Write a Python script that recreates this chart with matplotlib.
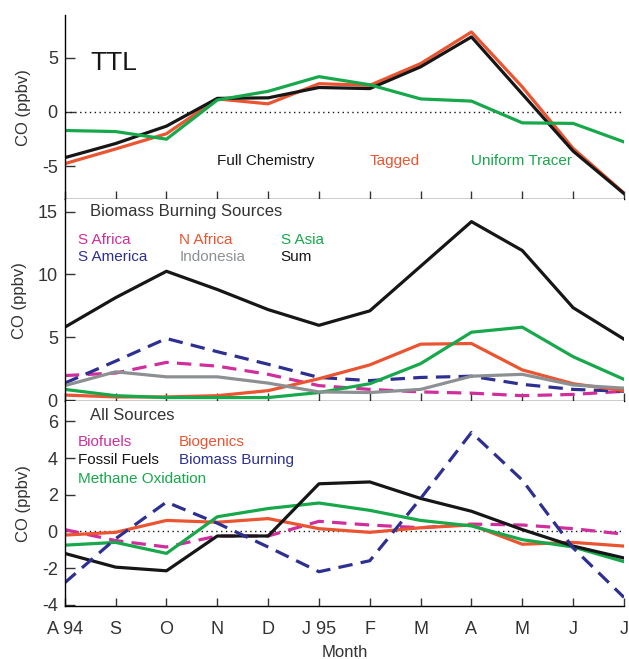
import numpy as np
import matplotlib
matplotlib.use('Agg')
import matplotlib.pyplot as plt

plt.rcParams['font.family'] = ['Liberation Sans', 'DejaVu Sans']
plt.rcParams['axes.unicode_minus'] = False

months = ['A 94', 'S', 'O', 'N', 'D', 'J 95', 'F', 'M', 'A', 'M', 'J', 'J']

# TTL panel
full_chem = [-4.2, -2.9, -1.3, 1.25, 1.3, 2.25, 2.15, 4.15, 6.9, 1.65, -3.6, -7.5]
tagged = [-4.75, -3.4, -2.0, 1.2, 0.75, 2.6, 2.45, 4.45, 7.35, 2.3, -3.35, -7.45]
uniform = [-1.7, -1.8, -2.5, 1.1, 1.9, 3.25, 2.5, 1.2, 1.0, -1.0, -1.05, -2.75]

# biomass burning sources
s_africa = [1.95, 2.15, 3.0, 2.7, 2.05, 1.15, 0.85, 0.65, 0.55, 0.35, 0.45, 0.7]
s_america = [1.35, 3.1, 4.9, 3.85, 2.85, 1.8, 1.55, 1.8, 1.9, 1.25, 0.85, 0.7]
n_africa = [0.4, 0.25, 0.25, 0.35, 0.75, 1.7, 2.8, 4.45, 4.5, 2.4, 1.3, 0.75]
indonesia = [1.15, 2.25, 1.85, 1.85, 1.35, 0.65, 0.6, 0.85, 1.9, 2.05, 1.2, 0.95]
s_asia = [0.85, 0.35, 0.2, 0.2, 0.2, 0.6, 1.3, 2.9, 5.4, 5.8, 3.45, 1.65]
bb_sum = [5.8, 8.15, 10.25, 8.8, 7.2, 5.95, 7.1, 10.65, 14.2, 11.9, 7.35, 4.85]

# all sources
biofuels = [0.1, -0.5, -0.85, -0.25, -0.25, 0.55, 0.35, 0.2, 0.4, 0.35, 0.15, -0.15]
biogenics = [-0.2, -0.05, 0.6, 0.5, 0.7, 0.15, -0.05, 0.2, 0.35, -0.7, -0.6, -0.8]
fossil = [-1.2, -1.95, -2.15, -0.25, -0.25, 2.6, 2.7, 1.8, 1.1, 0.1, -0.8, -1.45]
biomass = [-2.8, -0.4, 1.6, 0.45, -0.85, -2.2, -1.6, 1.8, 5.4, 2.8, -0.9, -3.6]
methane = [-0.75, -0.6, -1.2, 0.8, 1.25, 1.55, 1.15, 0.6, 0.3, -0.45, -0.85, -1.65]

x = np.arange(len(months))

BLACK = '#161616'
RED = '#ea5430'
GREEN = '#17a84b'
MAGENTA = '#cf2e9c'
BLUE = '#2d3091'
GRAY = '#8d9093'
TXT = '#333333'
lw = 2.3
dash = (0, (4.5, 2.6))

fig = plt.figure(figsize=(6.29, 6.59), dpi=100)
L, W = 0.103, 0.889
ax1 = fig.add_axes([L, 0.698, W, 0.279])
ax2 = fig.add_axes([L, 0.391, W, 0.307])
ax3 = fig.add_axes([L, 0.081, W, 0.310])

for ax in (ax1, ax2, ax3):
    ax.spines['top'].set_visible(False)
    ax.spines['right'].set_visible(False)
    ax.spines['left'].set_linewidth(1.0)
    ax.spines['bottom'].set_linewidth(1.0)
    ax.set_xlim(0, 11)
    ax.set_xticks(x)
    ax.tick_params(direction='in', length=7, width=1.0, labelsize=13, colors=TXT, pad=5)
    ax.tick_params(axis='x', length=6)
    ax.set_ylabel('CO (ppbv)', fontsize=12, color=TXT, labelpad=8)

# TTL
ax1.axhline(0, color=BLACK, lw=1.0, ls=(0, (1, 2.5)))
ax1.plot(x, tagged, color=RED, lw=lw)
ax1.plot(x, full_chem, color=BLACK, lw=lw)
ax1.plot(x, uniform, color=GREEN, lw=lw)
ax1.set_ylim(-8.0, 8.9)
ax1.set_yticks([-5, 0, 5])
ax1.set_xticklabels([])
ax1.text(0.5, 4.5, 'TTL', fontsize=19, color=BLACK, va='center')
ax1.text(3.0, -4.5, 'Full Chemistry', fontsize=11, color=BLACK, va='center')
ax1.text(6.0, -4.5, 'Tagged', fontsize=11, color=RED, va='center')
ax1.text(8.0, -4.5, 'Uniform Tracer', fontsize=11, color=GREEN, va='center')

# Biomass burning sources
ax2.plot(x, s_africa, color=MAGENTA, lw=lw, ls=dash)
ax2.plot(x, s_america, color=BLUE, lw=lw, ls=dash)
ax2.plot(x, n_africa, color=RED, lw=lw)
ax2.plot(x, s_asia, color=GREEN, lw=lw)
ax2.plot(x, indonesia, color=GRAY, lw=lw)
ax2.plot(x, bb_sum, color=BLACK, lw=lw)
ax2.set_ylim(-0.1, 16.0)
ax2.set_yticks([0, 5, 10, 15])
ax2.set_xticklabels([])
ax2.text(0.5, 15.0, 'Biomass Burning Sources', fontsize=12, color=TXT, va='center')
ax2.text(0.26, 12.7, 'S Africa', fontsize=11, color=MAGENTA, va='center')
ax2.text(0.26, 11.4, 'S America', fontsize=11, color=BLUE, va='center')
ax2.text(2.25, 12.7, 'N Africa', fontsize=11, color=RED, va='center')
ax2.text(2.25, 11.4, 'Indonesia', fontsize=11, color=GRAY, va='center')
ax2.text(4.25, 12.7, 'S Asia', fontsize=11, color=GREEN, va='center')
ax2.text(4.25, 11.4, 'Sum', fontsize=11, color=BLACK, va='center')

# All sources
ax3.axhline(0, color=BLACK, lw=1.0, ls=(0, (1, 2.5)))
ax3.plot(x, biofuels, color=MAGENTA, lw=lw, ls=dash)
ax3.plot(x, biogenics, color=RED, lw=lw)
ax3.plot(x, methane, color=GREEN, lw=lw)
ax3.plot(x, fossil, color=BLACK, lw=lw)
ax3.plot(x, biomass, color=BLUE, lw=lw, ls=dash)
ax3.set_ylim(-4.05, 7.1)
ax3.set_yticks([-4, -2, 0, 2, 4, 6])
ax3.set_xticklabels(months)
ax3.tick_params(axis='x', pad=11)
ax3.set_xlabel('Month', fontsize=12, color=TXT, labelpad=5)
ax3.text(0.5, 6.33, 'All Sources', fontsize=12, color=TXT, va='center')
ax3.text(0.26, 4.9, 'Biofuels', fontsize=11, color=MAGENTA, va='center')
ax3.text(0.26, 3.88, 'Fossil Fuels', fontsize=11, color=BLACK, va='center')
ax3.text(0.26, 2.87, 'Methane Oxidation', fontsize=11, color=GREEN, va='center')
ax3.text(2.25, 4.9, 'Biogenics', fontsize=11, color=RED, va='center')
ax3.text(2.25, 3.88, 'Biomass Burning', fontsize=11, color=BLUE, va='center')

fig.savefig('out.png', dpi=100)
